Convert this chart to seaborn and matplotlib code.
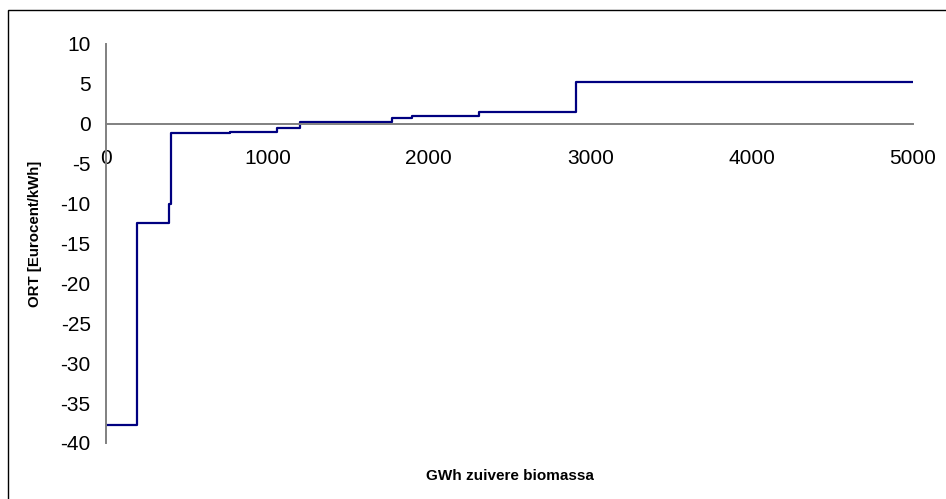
import numpy as np
import pandas as pd
import matplotlib
matplotlib.use("Agg")
import matplotlib.pyplot as plt
import seaborn as sns
from matplotlib.patches import Rectangle

# step curve: cumulative GWh (start of each step) and ORT value of the step
gwh = [0, 190, 392, 403, 768, 1062, 1202, 1774, 1894, 2311, 2912, 5000]
ort = [-37.8, -12.4, -10.0, -1.15, -1.08, -0.54, 0.17, 0.71, 0.96, 1.54, 5.3, 5.3]

x_ticks = [0, 1000, 2000, 3000, 4000, 5000]
y_ticks = [10, 5, 0, -5, -10, -15, -20, -25, -30, -35, -40]

df = pd.DataFrame({"GWh": gwh, "ORT": ort})

sns.set_style("white")
plt.rcParams["font.family"] = ["Liberation Sans", "DejaVu Sans"]
plt.rcParams["axes.unicode_minus"] = False
plt.rcParams["text.color"] = "black"
plt.rcParams["axes.labelcolor"] = "black"
plt.rcParams["xtick.color"] = "black"
plt.rcParams["ytick.color"] = "black"

W, H = 946, 499
fig = plt.figure(figsize=(W / 100, H / 100), dpi=100)
ax = fig.add_axes([106 / W, 1 - 443 / H, (913 - 106) / W, (443 - 44) / H])

sns.lineplot(data=df, x="GWh", y="ORT", ax=ax, drawstyle="steps-post",
             color="#000080", linewidth=1.6, estimator=None, sort=False)

ax.set_xlim(0, 5000)
ax.set_ylim(-40, 10)
ax.set_xticks(x_ticks)
ax.set_yticks(y_ticks)
ax.set_xticklabels([str(v) for v in x_ticks])
ax.set_yticklabels([str(v) for v in y_ticks])

for s in ["top", "right"]:
    ax.spines[s].set_visible(False)
ax.spines["bottom"].set_position(("data", 0))
for s in ["bottom", "left"]:
    ax.spines[s].set_color("#808080")
    ax.spines[s].set_linewidth(1.4)

ax.tick_params(axis="x", direction="out", length=4, width=1, color="#404040",
               labelsize=15, labelcolor="black", pad=14.5)
ax.tick_params(axis="y", direction="out", length=5, width=1, color="#404040",
               labelsize=15, labelcolor="black", pad=6)

ax.set_xlabel("GWh zuivere biomassa", fontsize=11, fontweight="bold", color="black")
ax.set_ylabel("ORT [Eurocent/kWh]", fontsize=10.8, fontweight="bold", color="black")
ax.xaxis.set_label_coords(0.5, -0.083)
ax.xaxis.label.set_va("center")
ax.yaxis.set_label_coords(-0.088, 0.523)
ax.yaxis.label.set_va("center")

# chart frame (extends past the right and bottom edges)
fig.patches.append(Rectangle((8 / W, -0.1), 1.2, 1 - 10 / H + 0.1,
                             transform=fig.transFigure, fill=False,
                             edgecolor="black", linewidth=1.0))

fig.savefig("out.png", dpi=100)
